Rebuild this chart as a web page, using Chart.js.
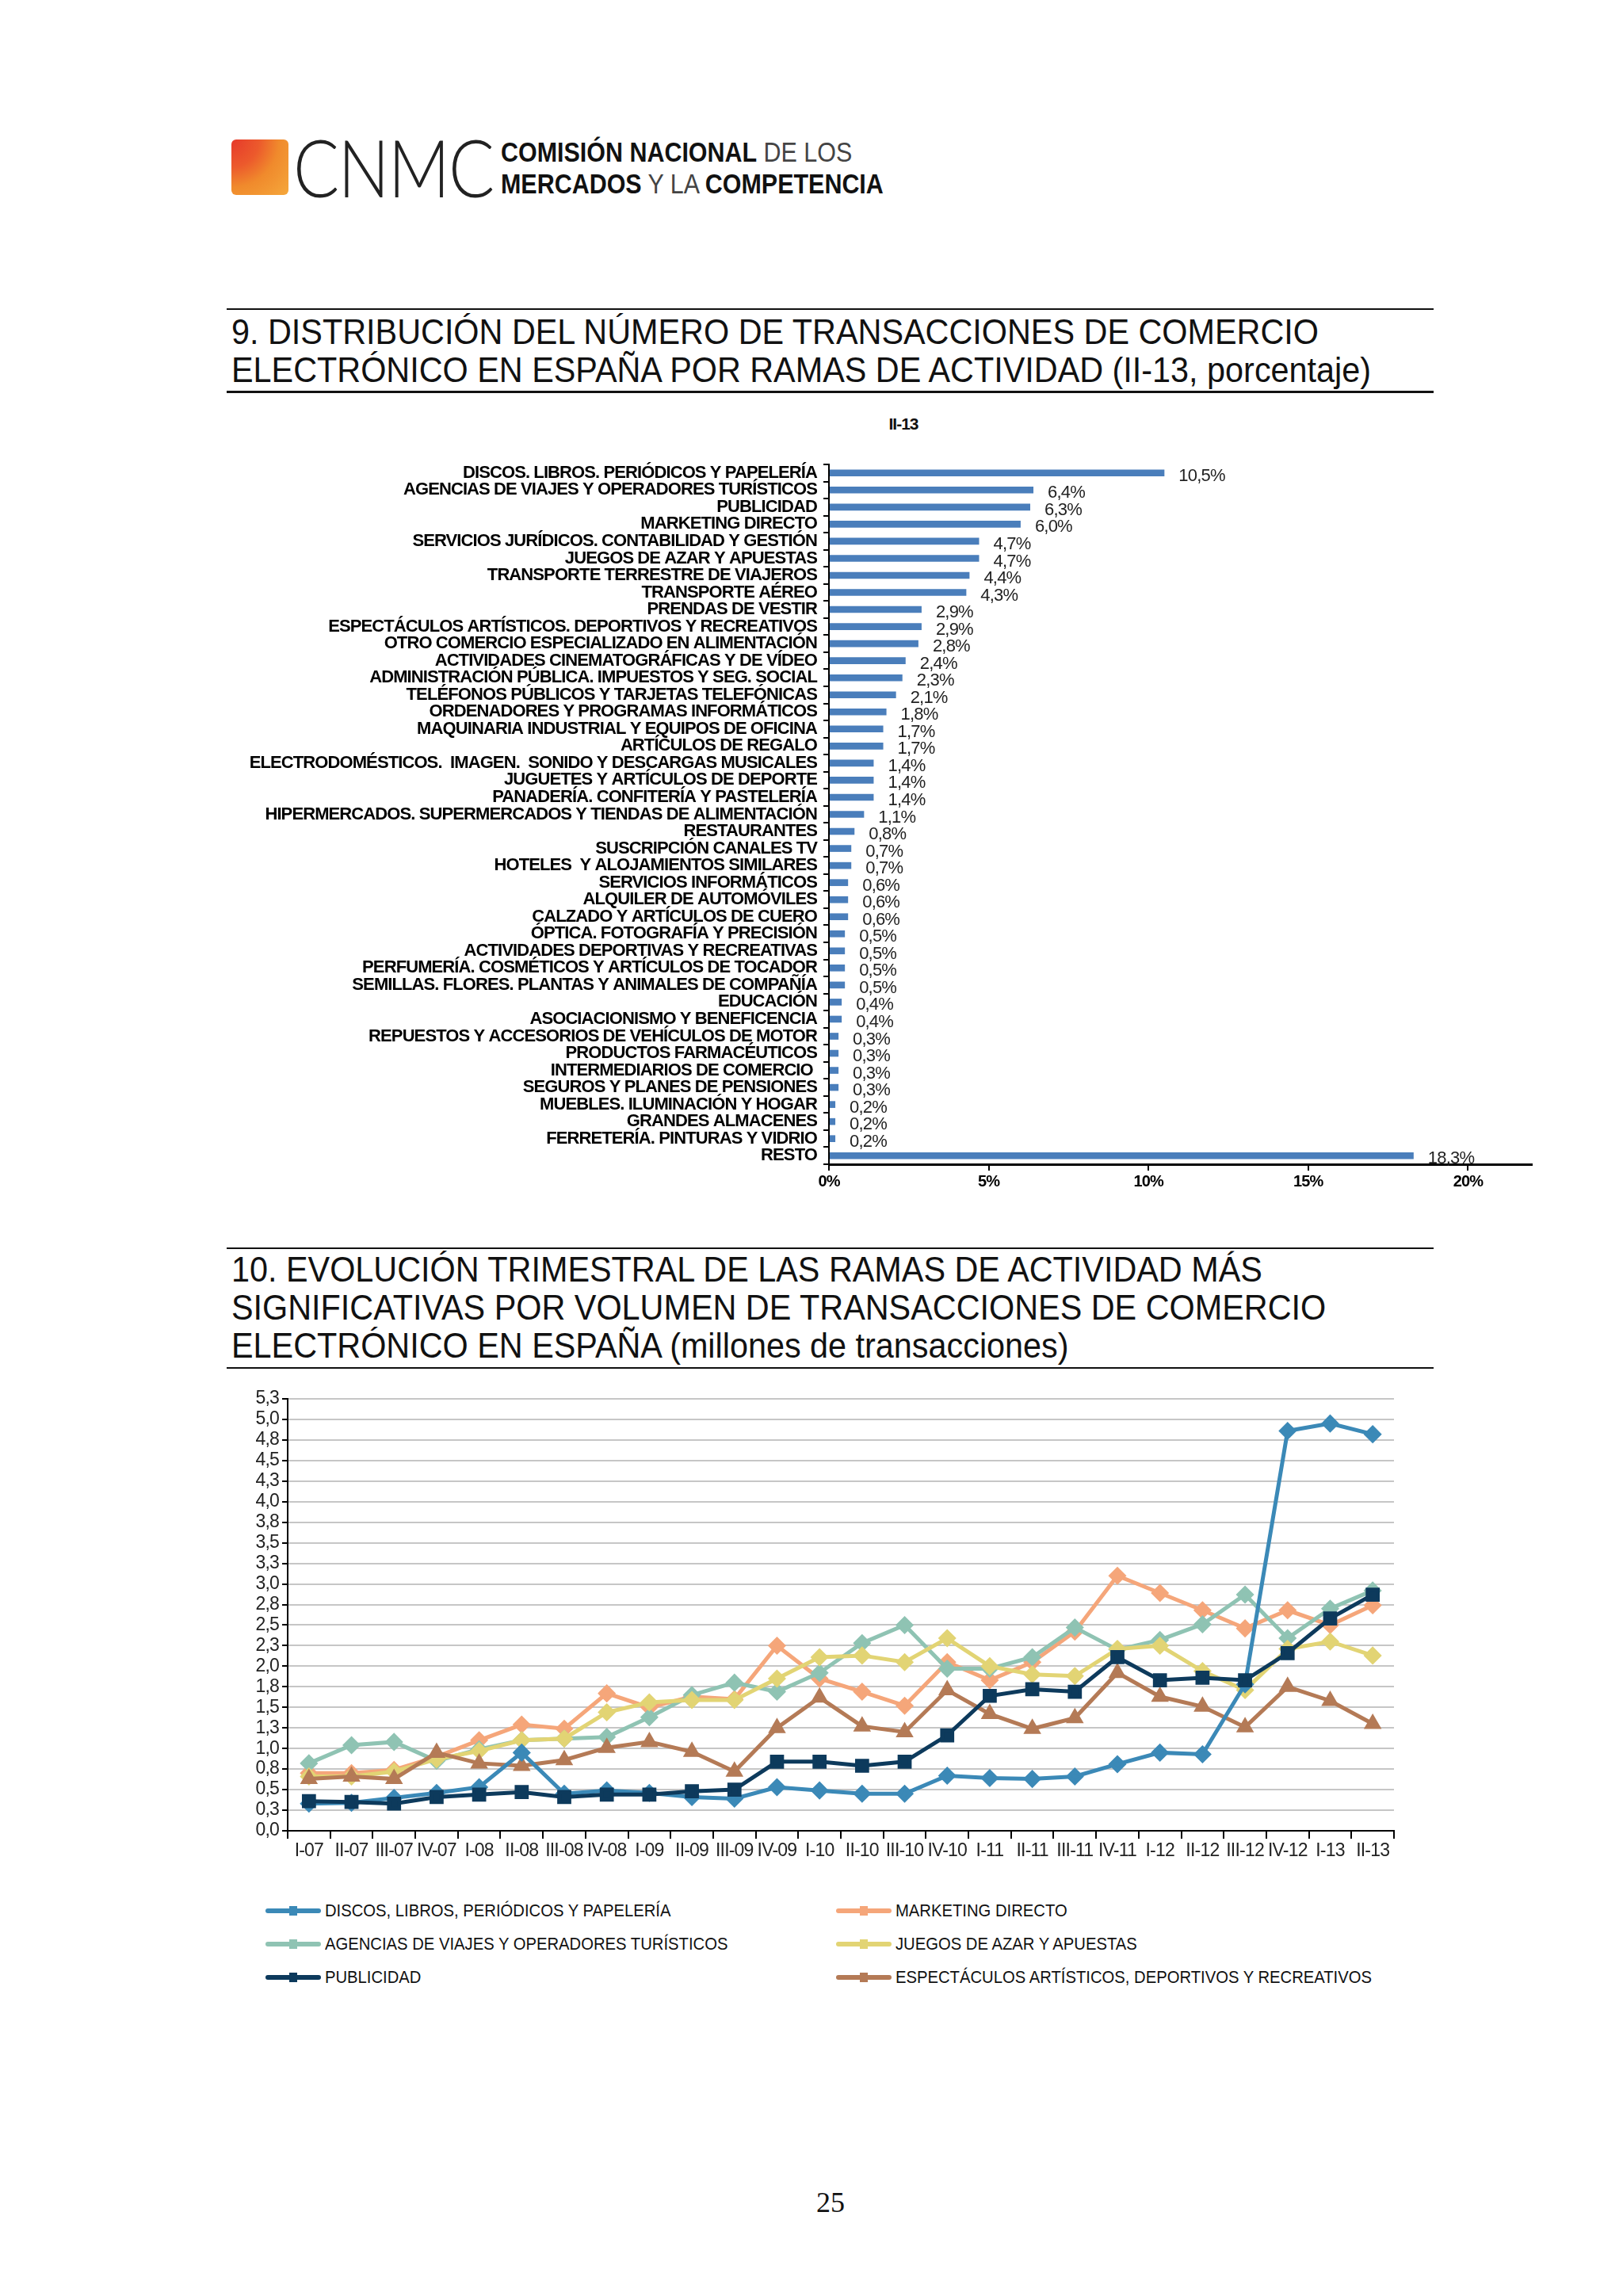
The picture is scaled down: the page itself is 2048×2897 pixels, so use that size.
<!DOCTYPE html>
<html lang="es">
<head>
<meta charset="utf-8">
<title>CNMC - comercio electrónico II-13</title>
<script src="https://cdn.jsdelivr.net/npm/chart.js@4.4.0/dist/chart.umd.min.js"></script>
<style>
  body { margin: 0; background: #fff; }
  #page { position: relative; width: 2048px; height: 2897px; background: #fff; overflow: hidden; font-family: "Liberation Sans", Arial, sans-serif; color: #111; }
  .abs { position: absolute; }
  .rule { position: absolute; left: 286px; width: 1523px; background: #111; }
  .title { position: absolute; left: 292px; font-size: 44px; line-height: 48px; white-space: nowrap; transform: scaleX(0.94); transform-origin: left top; }
  #logoSquare { left: 292px; top: 176px; width: 72px; height: 70px; border-radius: 6px;
    background: radial-gradient(circle at 0% 0%, #e6392b 0%, #ec5a2c 35%, #f08a2c 60%, #f5a83c 100%); }
  #logoCnmc { left: 370px; top: 150px; font-family: Lato, "Open Sans", sans-serif; font-weight: 300; font-size: 100px; line-height: 120px; color: #222; transform: scaleX(0.86); transform-origin: left top; letter-spacing: -2px; }
  .logoTxt { left: 632px; font-size: 35px; line-height: 36px; color: #111; white-space: nowrap; transform: scaleX(0.87); transform-origin: left top; }
  .logoTxt b { font-weight: bold; }
  .logoTxt span { color: #444; }
  #barTitle { left: 1100px; top: 523px; width: 80px; text-align: center; font-weight: bold; font-size: 21px; letter-spacing: -1px; }
  #legend .item { position: absolute; font-size: 22px; line-height: 26px; white-space: nowrap; }
  #legend .swatch { position: absolute; left: 0; top: 10px; width: 70px; height: 6px; border-radius: 3px; }
  #legend .dot { position: absolute; left: 30px; top: 7px; width: 10px; height: 12px; }
  #legend .txt { position: absolute; left: 75px; top: 0; transform: scaleX(0.92); transform-origin: left top; }
  #pageNum { left: 1000px; top: 2758px; width: 96px; text-align: center; font-family: "Liberation Serif", serif; font-size: 36px; }
</style>
</head>
<body>
<div id="page">
  <!-- logo -->
  <div id="logoSquare" class="abs"></div>
  <div id="logoCnmc" class="abs">CNMC</div>
  <div class="abs logoTxt" style="top:174px"><b>COMISIÓN NACIONAL</b> <span>DE LOS</span></div>
  <div class="abs logoTxt" style="top:214px"><b>MERCADOS</b> <span>Y LA</span> <b>COMPETENCIA</b></div>

  <!-- chart 9 title -->
  <div class="rule" style="top:389px;height:2px"></div>
  <div class="title" style="top:395px">9. DISTRIBUCIÓN DEL NÚMERO DE TRANSACCIONES DE COMERCIO<br>ELECTRÓNICO EN ESPAÑA POR RAMAS DE ACTIVIDAD (II-13, porcentaje)</div>
  <div class="rule" style="top:493px;height:3px"></div>
  <div id="barTitle" class="abs">II-13</div>
  <canvas id="barChart" class="abs" width="1660" height="960" style="left:290px;top:560px"></canvas>

  <!-- chart 10 title -->
  <div class="rule" style="top:1574px;height:2px"></div>
  <div class="title" style="top:1578px">10. EVOLUCIÓN TRIMESTRAL DE LAS RAMAS DE ACTIVIDAD MÁS<br>SIGNIFICATIVAS POR VOLUMEN DE TRANSACCIONES DE COMERCIO<br>ELECTRÓNICO EN ESPAÑA (millones de transacciones)</div>
  <div class="rule" style="top:1725px;height:2px"></div>
  <canvas id="lineChart" class="abs" width="1480" height="620" style="left:300px;top:1745px"></canvas>
  <div id="legend" class="abs" style="left:335px;top:2398px;width:1500px;height:120px"></div>

  <div id="pageNum" class="abs">25</div>
</div>

<script>
// ---- Chart 9: share of transactions by activity branch (II-13, %) ----
const branches = [
  'DISCOS. LIBROS. PERIÓDICOS Y PAPELERÍA',
  'AGENCIAS DE VIAJES Y OPERADORES TURÍSTICOS',
  'PUBLICIDAD',
  'MARKETING DIRECTO',
  'SERVICIOS JURÍDICOS. CONTABILIDAD Y GESTIÓN',
  'JUEGOS DE AZAR Y APUESTAS',
  'TRANSPORTE TERRESTRE DE VIAJEROS',
  'TRANSPORTE AÉREO',
  'PRENDAS DE VESTIR',
  'ESPECTÁCULOS ARTÍSTICOS. DEPORTIVOS Y RECREATIVOS',
  'OTRO COMERCIO ESPECIALIZADO EN ALIMENTACIÓN',
  'ACTIVIDADES CINEMATOGRÁFICAS Y DE VÍDEO',
  'ADMINISTRACIÓN PÚBLICA. IMPUESTOS Y SEG. SOCIAL',
  'TELÉFONOS PÚBLICOS Y TARJETAS TELEFÓNICAS',
  'ORDENADORES Y PROGRAMAS INFORMÁTICOS',
  'MAQUINARIA INDUSTRIAL Y EQUIPOS DE OFICINA',
  'ARTÍCULOS DE REGALO',
  'ELECTRODOMÉSTICOS.  IMAGEN.  SONIDO Y DESCARGAS MUSICALES',
  'JUGUETES Y ARTÍCULOS DE DEPORTE',
  'PANADERÍA. CONFITERÍA Y PASTELERÍA',
  'HIPERMERCADOS. SUPERMERCADOS Y TIENDAS DE ALIMENTACIÓN',
  'RESTAURANTES',
  'SUSCRIPCIÓN CANALES TV',
  'HOTELES  Y ALOJAMIENTOS SIMILARES',
  'SERVICIOS INFORMÁTICOS',
  'ALQUILER DE AUTOMÓVILES',
  'CALZADO Y ARTÍCULOS DE CUERO',
  'ÓPTICA. FOTOGRAFÍA Y PRECISIÓN',
  'ACTIVIDADES DEPORTIVAS Y RECREATIVAS',
  'PERFUMERÍA. COSMÉTICOS Y ARTÍCULOS DE TOCADOR',
  'SEMILLAS. FLORES. PLANTAS Y ANIMALES DE COMPAÑÍA',
  'EDUCACIÓN',
  'ASOCIACIONISMO Y BENEFICENCIA',
  'REPUESTOS Y ACCESORIOS DE VEHÍCULOS DE MOTOR',
  'PRODUCTOS FARMACÉUTICOS',
  'INTERMEDIARIOS DE COMERCIO ',
  'SEGUROS Y PLANES DE PENSIONES',
  'MUEBLES. ILUMINACIÓN Y HOGAR',
  'GRANDES ALMACENES',
  'FERRETERÍA. PINTURAS Y VIDRIO',
  'RESTO'
];
const shares = [10.5, 6.4, 6.3, 6.0, 4.7, 4.7, 4.4, 4.3, 2.9, 2.9, 2.8, 2.4, 2.3, 2.1, 1.8, 1.7, 1.7,
  1.4, 1.4, 1.4, 1.1, 0.8, 0.7, 0.7, 0.6, 0.6, 0.6, 0.5, 0.5, 0.5, 0.5, 0.4, 0.4,
  0.3, 0.3, 0.3, 0.3, 0.2, 0.2, 0.2, 18.3];
const shareTicks = ['0%', '5%', '10%', '15%', '20%'];

// ---- Chart 10: quarterly evolution (millions of transactions) ----
const quarters = ['I-07', 'II-07', 'III-07', 'IV-07', 'I-08', 'II-08', 'III-08', 'IV-08', 'I-09', 'II-09',
  'III-09', 'IV-09', 'I-10', 'II-10', 'III-10', 'IV-10', 'I-11', 'II-11', 'III-11', 'IV-11',
  'I-12', 'II-12', 'III-12', 'IV-12', 'I-13', 'II-13'];
const discos = [0.33, 0.34, 0.40, 0.46, 0.53, 0.95, 0.45, 0.49, 0.46, 0.41, 0.39, 0.53, 0.49, 0.45, 0.45,
  0.67, 0.64, 0.63, 0.66, 0.81, 0.95, 0.93, 1.78, 4.86, 4.95, 4.82];
const marketing = [0.70, 0.70, 0.74, 0.90, 1.10, 1.29, 1.24, 1.67, 1.50, 1.63, 1.60, 2.25, 1.85, 1.69, 1.52,
  2.05, 1.83, 2.05, 2.42, 3.10, 2.89, 2.68, 2.46, 2.68, 2.50, 2.74];
const agencias = [0.82, 1.04, 1.08, 0.85, 0.99, 1.10, 1.12, 1.14, 1.38, 1.65, 1.80, 1.69, 1.92, 2.28, 2.50,
  1.97, 1.97, 2.11, 2.47, 2.20, 2.32, 2.51, 2.87, 2.34, 2.70, 2.92];
const juegos = [0.66, 0.66, 0.72, 0.87, 0.97, 1.10, 1.12, 1.44, 1.56, 1.59, 1.59, 1.85, 2.11, 2.13, 2.05,
  2.34, 2.00, 1.90, 1.88, 2.21, 2.25, 1.94, 1.71, 2.21, 2.30, 2.13];
const publicidad = [0.36, 0.35, 0.33, 0.41, 0.44, 0.47, 0.41, 0.44, 0.44, 0.48, 0.50, 0.84, 0.84, 0.79, 0.84,
  1.16, 1.64, 1.72, 1.69, 2.11, 1.83, 1.86, 1.83, 2.16, 2.58, 2.87];
const espectaculos = [0.63, 0.66, 0.63, 0.95, 0.82, 0.79, 0.86, 1.01, 1.08, 0.96, 0.72, 1.25, 1.62, 1.27, 1.20,
  1.71, 1.42, 1.24, 1.37, 1.92, 1.63, 1.51, 1.26, 1.75, 1.58, 1.30];
const yTickLabels = ['0,0', '0,3', '0,5', '0,8', '1,0', '1,3', '1,5', '1,8', '2,0', '2,3', '2,5',
  '2,8', '3,0', '3,3', '3,5', '3,8', '4,0', '4,3', '4,5', '4,8', '5,0', '5,3'];

const FONT = '"Liberation Sans", Arial, sans-serif';

// no narrow font installed: squeeze canvas text with negative letter spacing
function condense(px) {
  return {
    id: 'condense',
    beforeUpdate(chart) { chart.ctx.letterSpacing = px; },
    beforeDraw(chart) { chart.ctx.letterSpacing = px; }
  };
}

// value labels to the right of each bar
const barValueLabels = {
  id: 'barValueLabels',
  afterDatasetsDraw(chart) {
    const ctx = chart.ctx;
    const meta = chart.getDatasetMeta(0);
    ctx.save();
    ctx.letterSpacing = '-0.8px';
    ctx.font = '22px ' + FONT;
    ctx.fillStyle = '#222';
    ctx.textBaseline = 'middle';
    meta.data.forEach((bar, i) => {
      const txt = shares[i].toFixed(1).replace('.', ',') + '%';
      ctx.fillText(txt, bar.x + 18, bar.y + 4);
    });
    ctx.restore();
  }
};

new Chart(document.getElementById('barChart'), {
  type: 'bar',
  data: {
    labels: branches,
    datasets: [{
      data: shares,
      backgroundColor: '#4a7ebb',
      barPercentage: 0.4,
      categoryPercentage: 1
    }]
  },
  options: {
    indexAxis: 'y',
    responsive: false,
    animation: false,
    layout: { padding: { top: 26, right: 17, bottom: 11, left: 0 } },
    plugins: { legend: { display: false }, tooltip: { enabled: false } },
    scales: {
      x: {
        min: 0, max: 22,
        afterFit: (s) => { s.height = 40; },
        afterBuildTicks: (s) => { s.ticks = [0, 5, 10, 15, 20].map(v => ({ value: v })); },
        border: { color: '#000', width: 3 },
        grid: { drawOnChartArea: false, color: '#000', tickLength: 8, lineWidth: 2 },
        ticks: {
          font: { family: FONT, size: 20, weight: 'bold' }, color: '#000', padding: 2,
          callback: (v, i) => shareTicks[i]
        }
      },
      y: {
        afterFit: (s) => { s.width = 756; },
        border: { color: '#000', width: 2 },
        grid: { drawOnChartArea: false, color: '#000', tickLength: 7, lineWidth: 2 },
        ticks: {
          autoSkip: false,
          font: { family: FONT, size: 22, weight: 'bold' }, color: '#000', padding: 8
        }
      }
    }
  },
  plugins: [condense('-0.9px'), barValueLabels]
});

// ---- line chart ----
const seriesNames = [
  'DISCOS, LIBROS, PERIÓDICOS Y PAPELERÍA',
  'MARKETING DIRECTO',
  'AGENCIAS DE VIAJES Y OPERADORES TURÍSTICOS',
  'JUEGOS DE AZAR Y APUESTAS',
  'PUBLICIDAD',
  'ESPECTÁCULOS ARTÍSTICOS, DEPORTIVOS Y RECREATIVOS'
];
const seriesData = [discos, marketing, agencias, juegos, publicidad, espectaculos];
const seriesColors = ['#3b89b7', '#f5a67a', '#8fc3b3', '#e2d474', '#0d3a5c', '#b47a56'];
const seriesMarkers = ['rectRot', 'rectRot', 'rectRot', 'rectRot', 'rect', 'triangle'];
const seriesOrder = [1, 5, 4, 3, 0, 2];

new Chart(document.getElementById('lineChart'), {
  type: 'line',
  data: {
    labels: quarters,
    datasets: seriesNames.map((name, i) => ({
      label: name,
      data: seriesData[i],
      borderColor: seriesColors[i],
      backgroundColor: seriesColors[i],
      pointBackgroundColor: seriesColors[i],
      pointBorderColor: seriesColors[i],
      pointStyle: seriesMarkers[i],
      pointRadius: seriesMarkers[i] === 'rect' ? 9 : 8,
      borderWidth: 5,
      order: seriesOrder[i],
      tension: 0
    }))
  },
  options: {
    responsive: false,
    animation: false,
    layout: { padding: { top: 20, right: 21, bottom: 5, left: 0 } },
    plugins: { legend: { display: false }, tooltip: { enabled: false } },
    scales: {
      x: {
        offset: true,
        afterFit: (s) => { s.height = 50; },
        border: { color: '#000', width: 2 },
        grid: { offset: true, drawOnChartArea: false, color: '#000', tickLength: 10, lineWidth: 2 },
        ticks: {
          autoSkip: false, maxRotation: 0, minRotation: 0, padding: 2,
          font: { family: FONT, size: 23 }, color: '#222'
        }
      },
      y: {
        min: 0, max: 5.25,
        afterFit: (s) => { s.width = 63; },
        border: { color: '#000', width: 2 },
        grid: { color: '#c6c6c6', lineWidth: 2, tickLength: 7, tickColor: '#000' },
        ticks: {
          stepSize: 0.25, autoSkip: false, padding: 4,
          font: { family: FONT, size: 23 }, color: '#222',
          callback: (v) => yTickLabels[Math.round(v / 0.25)]
        }
      }
    }
  },
  plugins: [condense('-0.8px')]
});

// ---- legend (two columns, three rows) ----
const legendEl = document.getElementById('legend');
const legendSlots = [[0, 0], [1, 0], [0, 1], [1, 1], [0, 2], [1, 2]]; // [column, row] per series
seriesNames.forEach((name, i) => {
  const [col, row] = legendSlots[i];
  const item = document.createElement('div');
  item.className = 'item';
  item.style.left = (col * 720) + 'px';
  item.style.top = (row * 42) + 'px';
  item.innerHTML = '<div class="swatch" style="background:' + seriesColors[i] + '"></div>' +
    '<div class="dot" style="background:' + seriesColors[i] + '"></div>' +
    '<div class="txt">' + name + '</div>';
  legendEl.appendChild(item);
});
</script>
</body>
</html>
